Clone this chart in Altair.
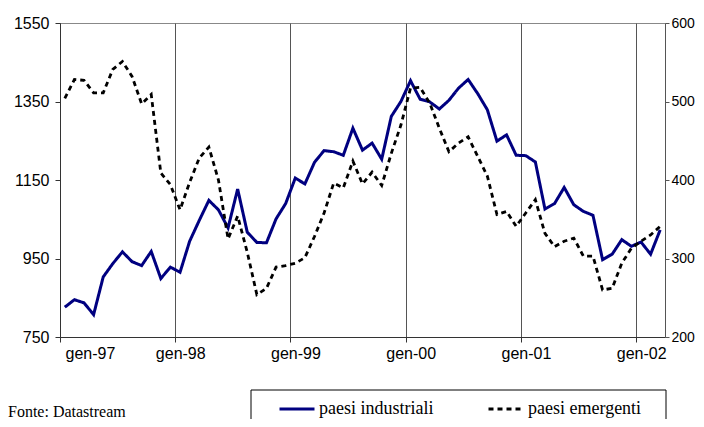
import altair as alt
import pandas as pd

# Monthly data, Jan 1997 - Mar 2002
industriali = [826, 845, 837, 807, 903, 937, 967, 942, 932, 968, 899, 928,
               915, 994, 1047, 1098, 1074, 1028, 1127, 1017, 991, 990, 1051, 1090,
               1155, 1140, 1195, 1225, 1222, 1213, 1282, 1226, 1244, 1203, 1312, 1350,
               1403, 1356, 1349, 1331, 1353, 1384, 1406, 1370, 1329, 1249, 1265, 1213,
               1212, 1196, 1076, 1090, 1131, 1087, 1070, 1060, 947, 961, 998, 981,
               992, 961, 1023]
emergenti = [504, 528, 527, 511, 511, 541, 551, 532, 497, 509, 409, 394,
             362, 397, 428, 442, 400, 325, 354, 308, 254, 262, 289, 291,
             294, 301, 328, 358, 396, 390, 424, 395, 410, 393, 434, 470,
             517, 518, 498, 466, 436, 447, 455, 430, 405, 356, 360, 341,
             358, 375, 332, 315, 322, 326, 303, 303, 260, 262, 294, 313,
             322, 330, 341]
year_labels = ["gen-97", "gen-98", "gen-99", "gen-00", "gen-01", "gen-02"]
series_names = ["paesi industriali", "paesi emergenti"]

n = len(industriali)
df = pd.DataFrame({
    "t": list(range(n)) * 2,
    "serie": [series_names[0]] * n + [series_names[1]] * n,
    "v_ind": industriali + [None] * n,
    "v_em": [None] * n + emergenti,
})

tick_vals = [12 * i - 0.5 for i in range(len(year_labels))]
label_expr = "[" + ",".join(f"'{s}'" for s in year_labels) + "][round((datum.value + 0.5) / 12)]"

x = alt.X("t:Q", scale=alt.Scale(domain=[-0.5, n - 0.5], nice=False, zero=False),
          axis=alt.Axis(values=tick_vals, labelExpr=label_expr, labelOffset=5,
                        grid=True, gridColor="#555555", gridWidth=1,
                        domainColor="#333333", tickColor="#333333", tickSize=5,
                        labelPadding=3, title=None))

color = alt.Color("serie:N", scale=alt.Scale(domain=series_names, range=["#000080", "#000000"]),
                  legend=alt.Legend(title=None))
dash = alt.StrokeDash("serie:N", scale=alt.Scale(domain=series_names, range=[[1, 0], [5, 4]]),
                      legend=alt.Legend(title=None))

base = alt.Chart(df)

ind = base.transform_filter(alt.datum.serie == series_names[0]).mark_line(strokeWidth=3).encode(
    x=x,
    y=alt.Y("v_ind:Q", scale=alt.Scale(domain=[750, 1550], nice=False, zero=False),
            axis=alt.Axis(values=[750, 950, 1150, 1350, 1550], format="d", grid=False, orient="left",
                          domainColor="#333333", tickColor="#333333", tickSize=5,
                          labelPadding=6, title=None)),
    color=color, strokeDash=dash,
)

em = base.transform_filter(alt.datum.serie == series_names[1]).mark_line(strokeWidth=2.8).encode(
    x=x,
    y=alt.Y("v_em:Q", scale=alt.Scale(domain=[200, 600], nice=False, zero=False),
            axis=alt.Axis(values=[200, 300, 400, 500, 600], format="d", grid=False, orient="right",
                          domainColor="#555555", tickColor="#555555", tickSize=4,
                          labelPadding=2, labelFontSize=14, title=None)),
    color=color, strokeDash=dash,
)

# legend frame (decoration)
frame = alt.Chart(pd.DataFrame({"k": [0]})).mark_rect(
    fill="white", stroke="black", strokeWidth=1
).encode(x=alt.value(191), x2=alt.value(606), y=alt.value(367), y2=alt.value(420))

fonte = alt.Chart(pd.DataFrame({"txt": ["Fonte: Datastream"]})).mark_text(
    align="left", baseline="alphabetic", font="Liberation Serif", fontSize=16, color="black"
).encode(text="txt:N", x=alt.value(-52), y=alt.value(394))

chart = alt.layer(frame, ind, em, fonte).resolve_scale(y="independent").properties(
    width=605, height=314,
    autosize=alt.AutoSizeParams(type="none"),
    padding={"left": 52, "top": 15, "right": 31, "bottom": 82},
).configure_view(stroke="#888888", strokeWidth=1).configure_axis(
    labelFont="Liberation Sans", labelFontSize=16, labelColor="black",
).configure_legend(
    orient="none", legendX=191, legendY=364, direction="horizontal",
    padding=3,
    labelFont="Liberation Serif", labelFontSize=18, labelColor="black",
    symbolType="stroke", symbolStrokeWidth=3, symbolSize=1225,
    symbolOffset=24, labelOffset=3, columnPadding=29,
)

chart.save("out.html", embed_options={"renderer": "svg", "actions": False})
